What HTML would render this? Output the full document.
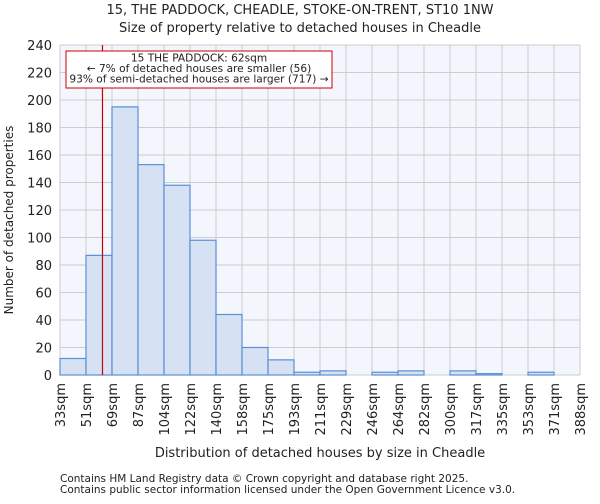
<!DOCTYPE html>
<html><head><meta charset="utf-8"><style>
body{margin:0;background:#fff;font-family:"DejaVu Sans","Liberation Sans",sans-serif}
svg text{font-family:"DejaVu Sans","Liberation Sans",sans-serif;fill:#222}
</style></head><body>
<svg id="chart" width="600" height="500" xmlns="http://www.w3.org/2000/svg">
<text x="300" y="14" font-size="13" text-anchor="middle">15, THE PADDOCK, CHEADLE, STOKE-ON-TRENT, ST10 1NW</text>
<text x="300" y="32" font-size="13" text-anchor="middle">Size of property relative to detached houses in Cheadle</text>
<rect x="60" y="45" width="520" height="330" fill="#f3f6fd"/>
<g id="grid"></g><g id="bars"></g><g id="axes"></g>
<text transform="translate(13,220) rotate(-90)" font-size="12" text-anchor="middle">Number of detached properties</text>
<text x="320" y="457" font-size="13" text-anchor="middle">Distribution of detached houses by size in Cheadle</text>
<text x="60" y="482" font-size="10.5">Contains HM Land Registry data © Crown copyright and database right 2025.</text>
<text x="60" y="493" font-size="10.5">Contains public sector information licensed under the Open Government Licence v3.0.</text>
</svg>
<script>
const binLabels=["33sqm","51sqm","69sqm","87sqm","104sqm","122sqm","140sqm","158sqm","175sqm","193sqm","211sqm","229sqm","246sqm","264sqm","282sqm","300sqm","317sqm","335sqm","353sqm","371sqm","388sqm"];
const counts=[12,87,195,153,138,98,44,20,11,2,3,0,2,3,0,3,1,0,2,0];
const yTicks=[0,20,40,60,80,100,120,140,160,180,200,220,240];
const markerValue=62;
const xMin=33,xMax=388;
const X0=60,X1=580,Y0=375,Y1=45;
const NS="http://www.w3.org/2000/svg";
const nb=counts.length,bw=(X1-X0)/nb;
const xb=i=>X0+i*bw;
const xv=v=>X0+(v-xMin)/(xMax-xMin)*(X1-X0);
const y=v=>Y0-v/240*(Y0-Y1);
function mk(t,a,p){const e=document.createElementNS(NS,t);for(const k in a)e.setAttribute(k,a[k]);p.appendChild(e);return e;}
const g=document.getElementById('grid'),b=document.getElementById('bars'),ax=document.getElementById('axes');
yTicks.forEach(t=>{
 const l=mk('line',{x1:X0,x2:X1,y1:y(t),y2:y(t),stroke:'#cccccc'},g);
 
 
 const tx=mk('text',{x:X0-8,y:y(t)+5,'font-size':13,'text-anchor':'end'},ax);
 tx.textContent=t;
 
 
});
binLabels.forEach((s,i)=>{
 const l=mk('line',{x1:xb(i),x2:xb(i),y1:Y1,y2:Y0,stroke:'#cccccc'},g);
 
 
 const tx=mk('text',{transform:`translate(${xb(i)+5},${Y0+8}) rotate(-90)`,'font-size':13,'text-anchor':'end'},ax);
 tx.textContent=s;
 
 
});
counts.forEach((c,i)=>{
 const r=mk('rect',{x:xb(i),y:y(c),width:bw,height:Y0-y(c),fill:'#d6e2f4',stroke:'#5a8fd6','stroke-width':1.2},b);
 
 
});
const ml=mk('line',{x1:xv(markerValue),x2:xv(markerValue),y1:Y1,y2:Y0,stroke:'#cc0000','stroke-width':1.2},ax);


const box=mk('rect',{x:66,y:51,width:266,height:37,fill:'#fff',stroke:'#cc0000'},ax);


["15 THE PADDOCK: 62sqm","← 7% of detached houses are smaller (56)","93% of semi-detached houses are larger (717) →"].forEach((s,i)=>{
 const t=mk('text',{x:199,y:61.5+i*10.5,'font-size':10.6,'text-anchor':'middle'},ax);
 t.textContent=s;
 
 
});
</script>
</body></html>
